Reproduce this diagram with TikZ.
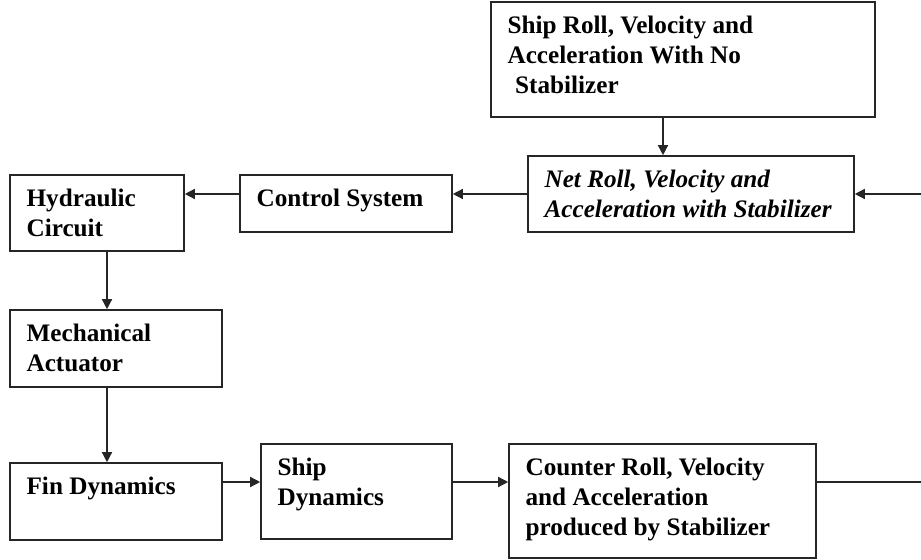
\documentclass[tikz,border=0pt]{standalone}
\usepackage{fontspec}
\setmainfont{Liberation Serif}
\usetikzlibrary{arrows.meta}

\tikzset{
  block/.style={draw=black!85, line width=0.8pt, inner sep=0pt},
  blocktext/.style={anchor=north west, inner sep=0pt, align=left, xshift=8.5pt, yshift=-7.3pt, font=\fontsize{12.6}{15}\selectfont\bfseries},
  line/.style={draw=black!85, line width=0.7pt},
  link/.style={line, -{Triangle[length=5pt,width=5pt]}},
}

\begin{document}
\begin{tikzpicture}[x=0.5pt, y=-0.5pt]
    \useasboundingbox (0,0) rectangle (921,560);
    \node[block, minimum width=192pt, minimum height=57.5pt] (noroll) at (683,59.5) {};
    \node[block, minimum width=163pt, minimum height=38pt] (netroll) at (691,194) {};
    \node[block, minimum width=106pt, minimum height=28.5pt] (control) at (346,203.5) {};
    \node[block, minimum width=87pt, minimum height=38pt] (hydraulic) at (97,213) {};
    \node[block, minimum width=106pt, minimum height=38.5pt] (actuator) at (116,348.5) {};
    \node[block, minimum width=106pt, minimum height=38.5pt] (fin) at (116,501.5) {};
    \node[block, minimum width=95.5pt, minimum height=47.5pt] (shipdyn) at (356.5,491.5) {};
    \node[block, minimum width=153.5pt, minimum height=57pt] (counter) at (662.5,501) {};
    \node[blocktext] (t-noroll) at (noroll.north west) {Ship Roll, Velocity and\\Acceleration With No\\\hspace*{0.3em}Stabilizer};
    \node[blocktext, font=\fontsize{12.6}{15}\selectfont\bfseries\itshape] (t-netroll) at (netroll.north west) {Net Roll, Velocity and\\Acceleration with Stabilizer};
    \node[blocktext] (t-control) at (control.north west) {Control System};
    \node[blocktext] (t-hydraulic) at (hydraulic.north west) {Hydraulic\\Circuit};
    \node[blocktext] (t-actuator) at (actuator.north west) {Mechanical\\Actuator};
    \node[blocktext] (t-fin) at (fin.north west) {Fin Dynamics};
    \node[blocktext] (t-shipdyn) at (shipdyn.north west) {Ship\\Dynamics};
    \node[blocktext] (t-counter) at (counter.north west) {Counter Roll, Velocity\\and Acceleration\\produced by Stabilizer};
    \coordinate (drop) at (663,0);
    \coordinate (down) at (107,0);
    \coordinate (bus) at (0,482);
    \coordinate (rin) at (921,194);
    \coordinate (rout) at (921,482);
    \draw[link] (noroll.south -| drop) -- (netroll.north -| drop);
    \draw[link] (rin) -- (netroll.east);
    \draw[link] (netroll.west) -- (netroll.west -| control.east);
    \draw[link] (netroll.west -| control.west) -- (netroll.west -| hydraulic.east);
    \draw[link] (hydraulic.south -| down) -- (actuator.north -| down);
    \draw[link] (actuator.south -| down) -- (fin.north -| down);
    \draw[link] (fin.east |- bus) -- (shipdyn.west |- bus);
    \draw[link] (shipdyn.east |- bus) -- (counter.west |- bus);
    \draw[line] (counter.east |- bus) -- (rout);
\end{tikzpicture}
\end{document}
